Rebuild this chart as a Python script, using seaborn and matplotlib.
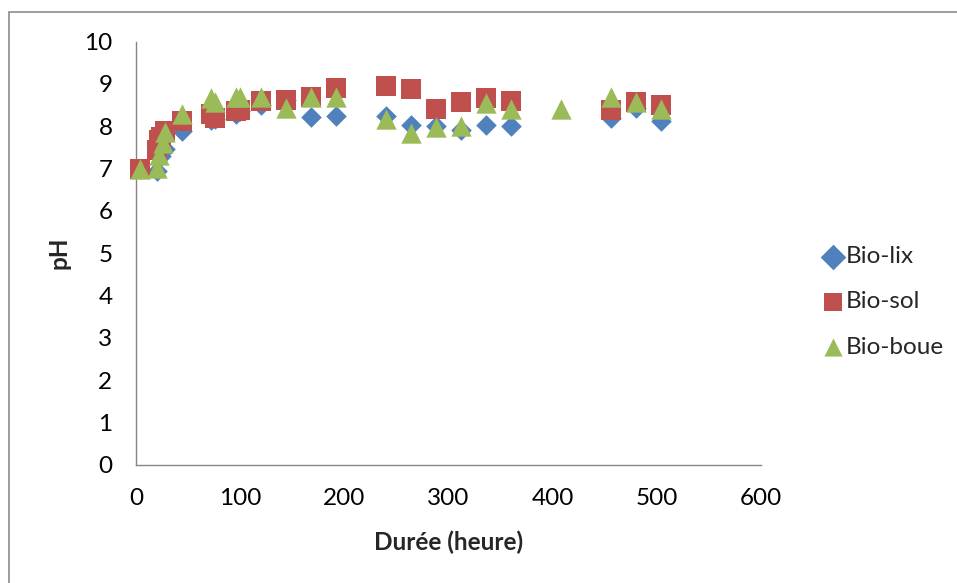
import numpy as np
import pandas as pd
import matplotlib
matplotlib.use("Agg")
import matplotlib.pyplot as plt
import matplotlib.patches as mpatches
import seaborn as sns

# Temps de prélèvement (heures) et pH mesuré pour chaque réacteur
lix_t = [4, 20, 24, 28, 44, 72, 76, 96, 100, 120, 144, 168, 192, 240, 264, 288, 312, 336, 360, 456, 480, 504]
lix_ph = [7.0, 6.93, 7.3, 7.45, 7.88, 8.15, 8.17, 8.3, 8.35, 8.5, 8.63, 8.21, 8.24, 8.25, 8.04, 8.01, 7.92, 8.02, 8.0, 8.2, 8.43, 8.12]

sol_t = [4, 20, 22, 24, 28, 44, 72, 76, 96, 100, 120, 144, 168, 192, 240, 264, 288, 312, 336, 360, 456, 480, 504]
sol_ph = [7.0, 7.43, 7.67, 7.75, 7.89, 8.12, 8.3, 8.2, 8.35, 8.38, 8.59, 8.62, 8.7, 8.91, 8.96, 8.87, 8.41, 8.57, 8.67, 8.59, 8.38, 8.57, 8.51]

boue_t = [4, 20, 22, 26, 28, 44, 72, 76, 96, 100, 120, 144, 168, 192, 240, 264, 288, 312, 336, 360, 408, 456, 480, 504]
boue_ph = [7.0, 7.02, 7.31, 7.6, 7.86, 8.3, 8.67, 8.57, 8.7, 8.68, 8.69, 8.42, 8.7, 8.69, 8.18, 7.84, 7.98, 8.0, 8.55, 8.41, 8.41, 8.68, 8.57, 8.4]

series_names = ["Bio-lix", "Bio-sol", "Bio-boue"]
x_ticks = [0, 100, 200, 300, 400, 500, 600]
y_ticks = list(range(0, 11))

colors = {"Bio-lix": "#4F81BD", "Bio-sol": "#C0504D", "Bio-boue": "#9BBB59"}
markers = {"Bio-lix": "D", "Bio-sol": "s", "Bio-boue": "^"}
sizes = {"Bio-lix": 110, "Bio-sol": 205, "Bio-boue": 215}

df = pd.concat([
    pd.DataFrame({"t": lix_t, "ph": lix_ph, "serie": "Bio-lix"}),
    pd.DataFrame({"t": sol_t, "ph": sol_ph, "serie": "Bio-sol"}),
    pd.DataFrame({"t": boue_t, "ph": boue_ph, "serie": "Bio-boue"}),
], ignore_index=True)

sns.set_theme(style="white")
plt.rcParams["font.family"] = ["Lato", "DejaVu Sans"]

FS = 17.5

fig = plt.figure(figsize=(9.57, 5.83), dpi=100)
ax = fig.add_axes([136 / 957, 1 - 464.7 / 583, (760.7 - 136) / 957, (464.7 - 41.6) / 583])

for name in series_names:
    sub = df[df["serie"] == name]
    sns.scatterplot(data=sub, x="t", y="ph", ax=ax, color=colors[name],
                    marker=markers[name], s=sizes[name], linewidth=0,
                    label=name, zorder=3, clip_on=False)

ax.set_xlim(0, 600)
ax.set_ylim(0, 10)
ax.set_xticks(x_ticks)
ax.set_yticks(y_ticks)
ax.tick_params(axis="both", which="major", direction="out", length=5, width=1,
               color="#868686", labelsize=FS, labelcolor="black", pad=12)
ax.tick_params(axis="x", pad=12)
for side in ["top", "right"]:
    ax.spines[side].set_visible(False)
for side in ["left", "bottom"]:
    ax.spines[side].set_color("#868686")
    ax.spines[side].set_linewidth(1)

ax.set_xlabel("Durée (heure)", fontsize=FS, fontweight="bold", labelpad=15)
ax.set_ylabel("pH", fontsize=FS, fontweight="bold", labelpad=10)

leg = ax.legend(loc="center left", bbox_to_anchor=(1.08, 0.385), frameon=False,
                fontsize=FS, handletextpad=0.05, labelspacing=1.0,
                handlelength=1.0, borderaxespad=0)
for h in leg.legend_handles:
    h.set_sizes([170])

# Cadre gris autour du graphique
fig.patches.append(mpatches.Rectangle((9 / 957, -0.1), 1.2, 1 - 12 / 583 + 0.1,
                                      transform=fig.transFigure, fill=False,
                                      edgecolor="#8c8c8c", linewidth=1.2))

fig.savefig("out.png", dpi=100, facecolor="white")
